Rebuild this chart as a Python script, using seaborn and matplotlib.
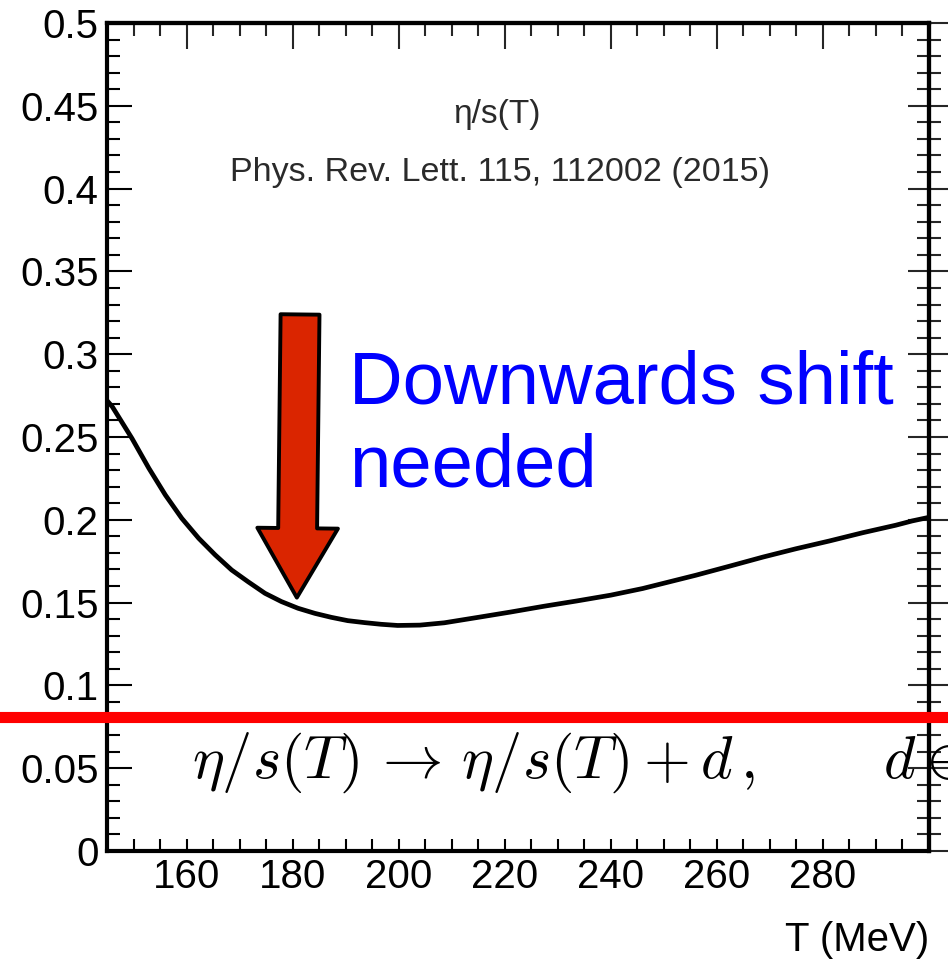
import matplotlib
matplotlib.use("Agg")
import matplotlib.pyplot as plt
from matplotlib.ticker import MultipleLocator, FixedLocator, FixedFormatter
import seaborn as sns
import pandas as pd

# ---- data ----
T_MeV = [145, 146.0, 149.7, 152.9, 156.0, 159.1, 162.3, 165.4, 168.5, 171.6, 174.8,
         177.9, 181.0, 184.2, 187.3, 190.4, 193.6, 196.7, 199.8, 204, 208.6, 214.8,
         221.1, 227.4, 233.6, 240, 246, 256, 262.4, 268.7, 274.9, 281.2, 287.5,
         293.7, 296.8, 300]
eta_s = [0.272, 0.2683, 0.2492, 0.2311, 0.2150, 0.2009, 0.1888, 0.1788, 0.1697, 0.1626,
         0.1556, 0.1506, 0.1466, 0.1435, 0.1411, 0.1391, 0.1379, 0.1369, 0.1362, 0.1364,
         0.1378, 0.1410, 0.1443, 0.1478, 0.1510, 0.1545, 0.1585, 0.1665, 0.1720, 0.1775,
         0.1825, 0.1872, 0.1922, 0.1967, 0.1993, 0.2015]
x_ticks = [160, 180, 200, 220, 240, 260, 280]
y_ticks = [0, 0.05, 0.1, 0.15, 0.2, 0.25, 0.3, 0.35, 0.4, 0.45, 0.5]
y_tick_labels = ["0", "0.05", "0.1", "0.15", "0.2", "0.25", "0.3", "0.35", "0.4", "0.45", "0.5"]
x_label = "T (MeV)"
title_lines = ["η/s(T)", "Phys. Rev. Lett. 115, 112002 (2015)"]
shift_text = ["Downwards shift", "needed"]
formula = r"$\eta/s(T) \,\rightarrow\, \eta/s(T) + d\,,\qquad\, d \in$"
red_level = 0.081
arrow_from = (181.4, 0.324)
arrow_to = (180.8, 0.153)

sns.set_style("ticks")
plt.rcParams["font.family"] = ["Liberation Sans", "DejaVu Sans"]
plt.rcParams["mathtext.fontset"] = "cm"

W, H = 948, 959
fig = plt.figure(figsize=(W / 100, H / 100), dpi=100)
ax = fig.add_axes([107 / W, 1 - 851 / H, (929 - 107) / W, (851 - 23) / H])

df = pd.DataFrame({"T": T_MeV, "eta_s": eta_s})
sns.lineplot(data=df, x="T", y="eta_s", ax=ax, color="black", linewidth=3.4)

ax.set_xlim(145, 300)
ax.set_ylim(0, 0.5)
ax.xaxis.set_major_locator(FixedLocator(x_ticks))
ax.xaxis.set_minor_locator(MultipleLocator(5))
ax.yaxis.set_major_locator(FixedLocator(y_ticks))
ax.yaxis.set_major_formatter(FixedFormatter(y_tick_labels))
ax.yaxis.set_minor_locator(MultipleLocator(0.01))

for s in ax.spines.values():
    s.set_linewidth(3)
    s.set_color("black")

ax.tick_params(axis="both", which="both", direction="in", width=1.5, color="black",
               labelsize=29, labelcolor="black", top=False, right=False)
ax.tick_params(axis="x", which="major", length=9, pad=5)
ax.tick_params(axis="x", which="minor", length=9)
ax.tick_params(axis="y", which="major", length=18, pad=6)
ax.tick_params(axis="y", which="minor", length=9)

# top ticks (longer majors)
secx = ax.secondary_xaxis("top")
secx.xaxis.set_major_locator(FixedLocator(x_ticks))
secx.xaxis.set_minor_locator(MultipleLocator(5))
secx.tick_params(which="both", direction="in", width=1.5, labeltop=False)
secx.tick_params(which="major", length=19)
secx.tick_params(which="minor", length=9)
secx.spines["top"].set_linewidth(3)

# right ticks (crossing the spine)
secy = ax.secondary_yaxis("right")
secy.yaxis.set_major_locator(FixedLocator(y_ticks))
secy.yaxis.set_minor_locator(MultipleLocator(0.01))
secy.tick_params(which="both", direction="inout", width=1.5, labelright=False)
secy.tick_params(which="major", length=30)
secy.tick_params(which="minor", length=17)
secy.spines["right"].set_linewidth(3)

ax.set_xlabel(x_label, loc="right", fontsize=29, labelpad=18, color="black")
ax.set_ylabel("")

# header texts
fig.text(497 / W, 1 - 114 / H, title_lines[0], ha="center", va="center",
         fontsize=24, color="#2a2a2a")
fig.text(500 / W, 1 - 172 / H, title_lines[1], ha="center", va="center",
         fontsize=24.5, color="#2a2a2a")

# blue annotation
fig.text(349 / W, 1 - 404 / H, shift_text[0], ha="left", va="baseline",
         fontsize=53.5, color="#0000FF")
fig.text(349 / W, 1 - 486 / H, shift_text[1], ha="left", va="baseline",
         fontsize=53.5, color="#0000FF")

# red arrow
ax.annotate("", xy=arrow_to, xytext=arrow_from,
            arrowprops=dict(arrowstyle="simple,head_length=50,head_width=58,tail_width=28",
                            mutation_scale=1, facecolor="#DA2500", edgecolor="black",
                            linewidth=2.8, shrinkA=0, shrinkB=0))

# red horizontal line across the whole figure
ax.axhline(red_level, xmin=-0.2, xmax=1.1, color="#FF0000", linewidth=8, clip_on=False,
           zorder=5)

# formula
fig.text(192 / W, 1 - 778 / H, formula, ha="left", va="baseline", fontsize=43.5,
         color="black")

fig.savefig("out.png", dpi=100)
